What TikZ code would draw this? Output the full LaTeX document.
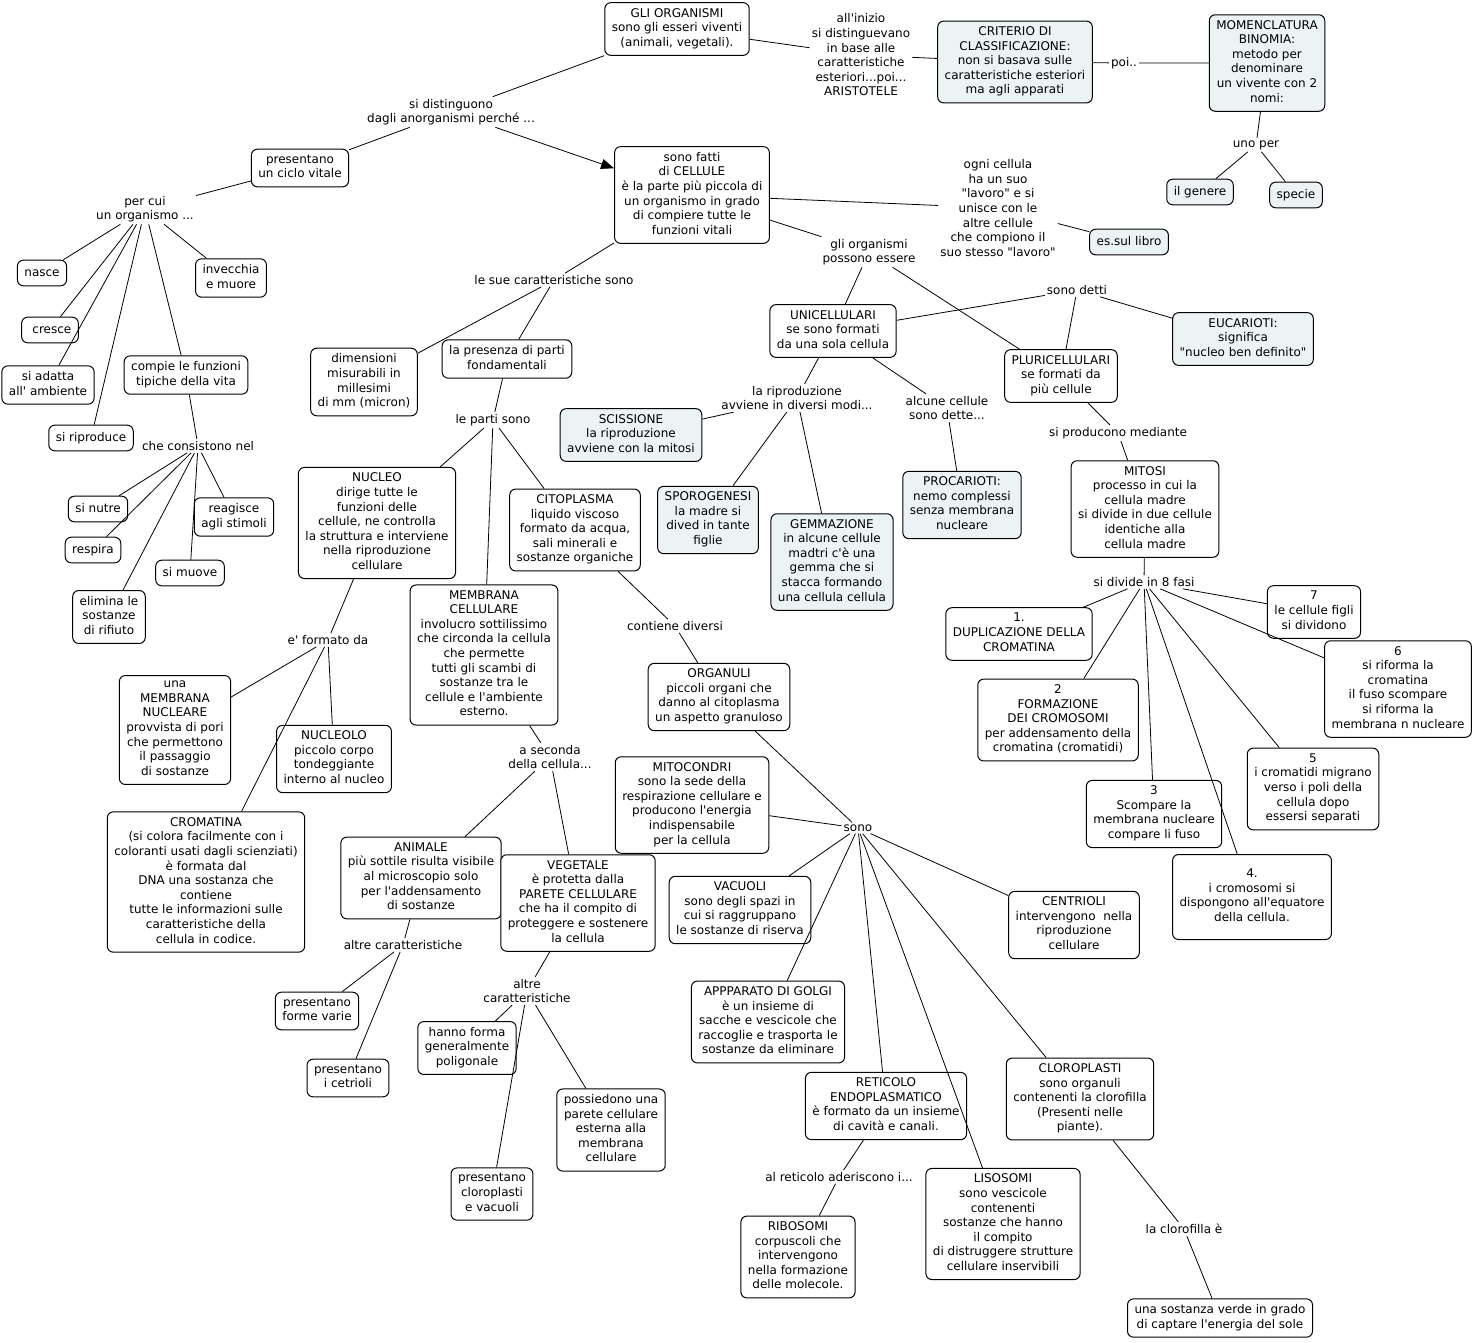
\documentclass[tikz,border=0pt]{standalone}
\usepackage{fontspec}
\setmainfont{DejaVu Sans}[Ligatures=TeXOff]
\usetikzlibrary{arrows.meta}
\definecolor{cmapblue}{RGB}{236,243,245}
\newcommand\boxstrut{\rule[-3.6pt]{0pt}{14.6pt}}

\begin{document}
\begin{tikzpicture}[
        x=1pt,
        y=-1pt,
        font=\fontsize{12}{14.6}\selectfont,
        box/.style={draw, line width=1pt, rounded corners=6pt, fill=white, align=center, inner xsep=7pt, inner ysep=5.5pt,
            execute at begin node=\boxstrut, execute at end node=\boxstrut},
        bluebox/.style={box, fill=cmapblue},
        lab/.style={align=center, inner sep=2pt},
        conn/.style={line width=0.8pt}
    ]
        \useasboundingbox (0,0) rectangle (1475,1342);

        % concetti principali
        \node[box] (org) at (677,29) {GLI ORGANISMI\\sono gli esseri viventi\\(animali, vegetali).};
        \node[bluebox] (crit) at (1015,62) {CRITERIO DI\\CLASSIFICAZIONE:\\non si basava sulle\\caratteristiche esteriori\\ma agli apparati};
        \node[bluebox] (nomen) at (1267,63) {MOMENCLATURA\\BINOMIA:\\metodo per\\denominare\\un vivente con 2\\nomi:};
        \node[bluebox] (gen) at (1200,192) {il genere};
        \node[bluebox] (spec) at (1296,195) {specie};
        \node[bluebox] (libro) at (1129,242) {es.sul libro};
        \node[box] (ciclo) at (300,168) {presentano\\un ciclo vitale};
        \node[box] (cell) at (692,195) {sono fatti\\di CELLULE\\è la parte più piccola di\\un organismo in grado\\di compiere tutte le\\funzioni vitali};

        \node[box] (nasce) at (42,273) {nasce};
        \node[box] (cresce) at (50,330) {\ cresce};
        \node[box] (adatta) at (48,385) {si adatta\\all' ambiente};
        \node[box] (riprod) at (91,438) {si riproduce};
        \node[box] (compie) at (186,375) {compie le funzioni\\tipiche della vita};
        \node[box] (invec) at (231,278) {invecchia\\e muore};
        \node[box] (nutre) at (98,509) {si nutre};
        \node[box] (respira) at (93,550) {respira};
        \node[box] (reag) at (234,517) {reagisce\\agli stimoli};
        \node[box] (muove) at (190,573) {si muove};
        \node[box] (elimina) at (109,617) {elimina le\\sostanze\\di rifiuto};

        \node[box] (dim) at (364,382) {dimensioni\\misurabili in\\millesimi\\di mm (micron)};
        \node[box] (parti) at (507,359) {la presenza di parti\\fondamentali};
        \node[box] (uni) at (833,331) {UNICELLULARI\\se sono formati\\da una sola cellula};
        \node[bluebox] (euc) at (1243,339) {EUCARIOTI:\\significa\\"nucleo ben definito"};
        \node[box] (pluri) at (1061,376) {PLURICELLULARI\\se formati da\\più cellule};
        \node[bluebox] (sciss) at (631,435) {SCISSIONE\\la riproduzione\\avviene con la mitosi};
        \node[bluebox] (spor) at (708,520) {SPOROGENESI\\la madre si\\dived in tante\\figlie};
        \node[bluebox] (gemm) at (832,562) {GEMMAZIONE\\in alcune cellule\\madtri c'è una\\gemma che si\\stacca formando\\una cellula cellula};
        \node[bluebox] (procar) at (962,505) {PROCARIOTI:\\nemo complessi\\senza membrana\\nucleare};
        \node[box] (mitosi) at (1145,509) {MITOSI\\processo in cui la\\cellula madre\\si divide in due cellule\\identiche alla\\cellula madre};

        \node[box] (nucleo) at (377,523) {NUCLEO\\dirige tutte le\\funzioni delle\\cellule, ne controlla\\la struttura e interviene\\nella riproduzione\\cellulare};
        \node[box] (citopl) at (575,530) {CITOPLASMA\\liquido viscoso\\formato da acqua,\\sali minerali e\\sostanze organiche};
        \node[box] (membr) at (484,655) {MEMBRANA\\CELLULARE\\involucro sottilissimo\\che circonda la cellula\\che permette\\tutti gli scambi di\\sostanze tra le\\cellule e l'ambiente\\esterno.};
        \node[box] (organ) at (719,697) {ORGANULI\\piccoli organi che\\danno al citoplasma\\un aspetto granuloso};
        \node[box] (mnucl) at (175,730) {una\\MEMBRANA\\NUCLEARE\\provvista di pori\\che permettono\\il passaggio\\di sostanze};
        \node[box] (nucleolo) at (334,759) {NUCLEOLO\\piccolo corpo\\tondeggiante\\interno al nucleo};
        \node[box] (crom) at (206,882) {CROMATINA\\(si colora facilmente con i\\coloranti usati dagli scienziati)\\è formata dal\\DNA una sostanza che\\contiene\\tutte le informazioni sulle\\caratteristiche della\\cellula in codice.};

        \node[box] (mitoc) at (692,805) {MITOCONDRI\\sono la sede della\\respirazione cellulare e\\producono l'energia\\indispensabile\\per la cellula};
        \node[box] (anim) at (421,878) {ANIMALE\\più sottile risulta visibile\\al microscopio solo\\per l'addensamento\\di sostanze};
        \node[box] (veget) at (578,903) {VEGETALE\\è protetta dalla\\PARETE CELLULARE\\che ha il compito di\\proteggere e sostenere\\la cellula};
        \node[box] (vacuoli) at (740,910) {VACUOLI\\sono degli spazi in\\cui si raggruppano\\le sostanze di riserva};
        \node[box] (centr) at (1074,925) {CENTRIOLI\\intervengono\ \ nella\\riproduzione\\cellulare};
        \node[box] (golgi) at (768,1022) {APPPARATO DI GOLGI\\è un insieme di\\sacche e vescicole che\\raccoglie e trasporta le\\sostanze da eliminare};
        \node[box] (forme) at (317,1011) {presentano\\forme varie};
        \node[box] (cetr) at (348,1078) {presentano\\i cetrioli};
        \node[box] (poligon) at (467,1048) {hanno forma\\generalmente\\poligonale};
        \node[box] (possied) at (611,1130) {possiedono una\\parete cellulare\\esterna alla\\membrana\\cellulare};
        \node[box] (clorvac) at (492,1194) {presentano\\cloroplasti\\e vacuoli};
        \node[box] (retic) at (886,1106) {RETICOLO\\ENDOPLASMATICO\\è formato da un insieme\\di cavità e canali.};
        \node[box] (cloropl) at (1080,1099) {CLOROPLASTI\\sono organuli\\contenenti la clorofilla\\(Presenti nelle\\piante).};
        \node[box] (ribos) at (798,1257) {RIBOSOMI\\corpuscoli che\\intervengono\\nella formazione\\delle molecole.};
        \node[box] (lisos) at (1003,1224) {LISOSOMI\\sono vescicole\\contenenti\\sostanze che hanno\\il compito\\di distruggere strutture\\cellulare inservibili};
        \node[box] (verde) at (1220,1318) {una sostanza verde in grado\\di captare l'energia del sole};

        % fasi della mitosi
        \node[box] (fase1) at (1019,634) {1.\\DUPLICAZIONE DELLA\\CROMATINA};
        \node[box] (fase2) at (1058,720) {2\\FORMAZIONE\\DEI CROMOSOMI\\per addensamento della\\cromatina (cromatidi)};
        \node[box] (fase3) at (1154,814) {3\\Scompare la\\membrana nucleare\\compare li fuso};
        \node[box, minimum height=85pt] (fase4) at (1252,897) {4.\\i cromosomi si\\dispongono all'equatore\\della cellula.};
        \node[box] (fase5) at (1313,789) {5\\i cromatidi migrano\\verso i poli della\\cellula dopo\\essersi separati};
        \node[box] (fase6) at (1398,689) {6\\si riforma la\\cromatina\\il fuso scompare\\si riforma la\\membrana n nucleare};
        \node[box] (fase7) at (1314,612) {7\\le cellule figli\\si dividono};

        % frasi di collegamento
        \node[lab] (inizio) at (861,55) {all'inizio\\si distinguevano\\in base alle\\caratteristiche\\esteriori...poi...\\ARISTOTELE};
        \node[lab] (poi) at (1124,63) {poi..};
        \node[lab] (unoper) at (1256,145) {uno per};
        \node[lab] (distinguono) at (451,112) {si distinguono\\dagli anorganismi perché ...};
        \node[lab] (percui) at (145,209) {per cui\\un organismo ...};
        \node[lab] (consistono) at (198,446) {che consistono nel};
        \node[lab] (ognicell) at (998,208) {ogni cellula\\ha un suo\\"lavoro" e si\\unisce con le\\altre cellule\\che compiono il\\suo stesso "lavoro"};
        \node[lab] (possono) at (869,252) {gli organismi\\possono essere};
        \node[lab] (caratt) at (554,280) {le sue caratteristiche sono};
        \node[lab] (detti) at (1077,290) {sono detti};
        \node[lab] (modi) at (797,398) {la riproduzione\\avviene in diversi modi...};
        \node[lab] (dette) at (947,408) {alcune cellule\\sono dette...};
        \node[lab] (mediante) at (1118,433) {si producono mediante};
        \node[lab] (partisono) at (493,420) {le parti sono};
        \node[lab] (formato) at (328,640) {e' formato da};
        \node[lab] (contiene) at (675,626) {contiene diversi};
        \node[lab] (fasi) at (1144,582) {si divide in 8 fasi};
        \node[lab] (seconda) at (550,757) {a seconda\\della cellula...};
        \node[lab] (sono) at (858,828) {sono};
        \node[lab] (altreA) at (403,945) {altre caratteristiche};
        \node[lab] (altreV) at (527,991) {altre\\caratteristiche};
        \node[lab] (aderiscono) at (839,1177) {al reticolo aderiscono i...};
        \node[lab] (clorofilla) at (1184,1229) {la clorofilla è};

        % collegamenti
        \draw[conn] (org) -- (inizio) -- (crit) -- (poi) -- (nomen) -- (unoper);
        \draw[conn] (unoper) -- (gen);
        \draw[conn] (unoper) -- (spec);
        \draw[conn] (org) -- (distinguono);
        \draw[conn, -{Triangle[length=13pt,width=10pt]}] (distinguono) -- (cell);
        \draw[conn] (distinguono) -- (ciclo) -- (percui);
        \foreach \n in {nasce,cresce,adatta,riprod,compie,invec}
            \draw[conn] (percui) -- (\n);
        \draw[conn] (compie) -- (consistono);
        \foreach \n in {nutre,respira,elimina,muove,reag}
            \draw[conn] (consistono) -- (\n);
        \draw[conn] (cell) -- (ognicell) -- (libro);
        \draw[conn] (cell) -- (possono);
        \draw[conn] (possono) -- (uni);
        \draw[conn] (possono) -- (pluri);
        \draw[conn] (cell) -- (caratt);
        \draw[conn] (caratt) -- (dim);
        \draw[conn] (caratt) -- (parti);
        \draw[conn] (uni) -- (detti) -- (euc);
        \draw[conn] (pluri) -- (detti);
        \draw[conn] (uni) -- (modi);
        \foreach \n in {sciss,spor,gemm}
            \draw[conn] (modi) -- (\n);
        \draw[conn] (uni) -- (dette) -- (procar);
        \draw[conn] (pluri) -- (mediante) -- (mitosi);
        \draw[conn] (mitosi) -- (fasi);
        \foreach \n in {fase1,fase2,fase3,fase4,fase5,fase6,fase7}
            \draw[conn] (fasi) -- (\n);
        \draw[conn] (parti) -- (partisono);
        \foreach \n in {nucleo,citopl,membr}
            \draw[conn] (partisono) -- (\n);
        \draw[conn] (nucleo) -- (formato);
        \foreach \n in {mnucl,nucleolo,crom}
            \draw[conn] (formato) -- (\n);
        \draw[conn] (citopl) -- (contiene) -- (organ);
        \draw[conn] (membr) -- (seconda);
        \draw[conn] (seconda) -- (anim);
        \draw[conn] (seconda) -- (veget);
        \draw[conn] (organ) -- (sono);
        \foreach \n in {mitoc,vacuoli,golgi,retic,lisos,cloropl,centr}
            \draw[conn] (sono) -- (\n);
        \draw[conn] (anim) -- (altreA);
        \draw[conn] (altreA) -- (forme);
        \draw[conn] (altreA) -- (cetr);
        \draw[conn] (veget) -- (altreV);
        \foreach \n in {poligon,clorvac,possied}
            \draw[conn] (altreV) -- (\n);
        \draw[conn] (retic) -- (aderiscono) -- (ribos);
        \draw[conn] (cloropl) -- (clorofilla) -- (verde);
    \end{tikzpicture}
\end{document}
